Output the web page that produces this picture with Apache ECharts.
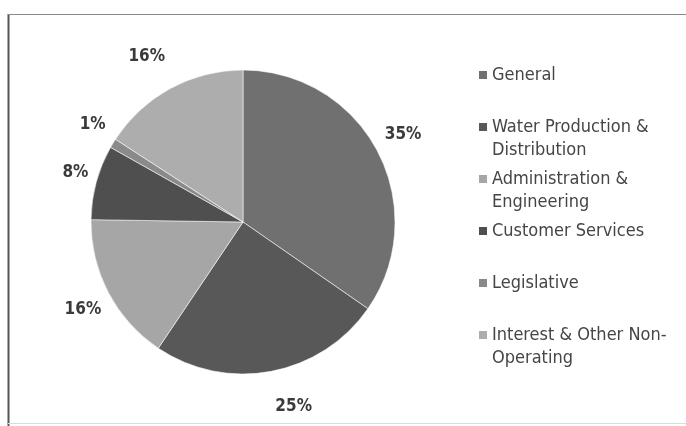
<!DOCTYPE html>
<html><head><meta charset="utf-8">
<script src="https://cdn.jsdelivr.net/npm/echarts@6/dist/echarts.min.js"></script>
<style>html,body{margin:0;padding:0;background:#fff}#c{width:686px;height:426px}</style>
</head><body><div id="c"></div>
<script>
const categories = ['General', 'Water Production & Distribution', 'Administration & Engineering', 'Customer Services', 'Legislative', 'Interest & Other Non-Operating'];
const legendLines = [['General'], ['Water Production &', 'Distribution'], ['Administration &', 'Engineering'], ['Customer Services'], ['Legislative'], ['Interest & Other Non-', 'Operating']];
const values = [35, 25, 16, 8, 1, 16];
const colors = ['#707070', '#585858', '#a6a6a6', '#4f4f4f', '#8a8a8a', '#adadad'];

const FONT = "'Liberation Sans Narrow', 'DejaVu Sans Condensed', sans-serif";
const CENTER = [243, 222];
const chart = echarts.init(document.getElementById('c'), null, {renderer: 'canvas'});

const rich = { t: { fontFamily: FONT, fontSize: 18, lineHeight: 23, color: '#454545' }, sp: { width: 13, height: 8 } };
colors.forEach((c, i) => { rich['sq' + i] = { width: 8, height: 8, backgroundColor: c, padding: 0 }; });
rich.gap = { width: 5, height: 8 };

chart.setOption({
  animation: false,
  backgroundColor: '#fff',
  color: colors,
  legend: {
    orient: 'vertical',
    left: 469,
    top: 58.5,
    itemWidth: 0,
    itemHeight: 0,
    itemGap: 6,
    icon: 'none',
    selectedMode: false,
    data: categories,
    formatter: name => {
      const i = categories.indexOf(name);
      const ls = legendLines[i];
      let s = '{sq' + i + '|}{gap|}{t|' + ls[0] + '}';
      s += '\n' + (ls[1] ? '{sp|}{t|' + ls[1] + '}' : '{t| }');
      return s;
    },
    textStyle: { fontFamily: FONT, fontSize: 18, lineHeight: 23, color: '#454545', rich: rich }
  },
  series: [{
    type: 'pie',
    center: CENTER,
    radius: 152,
    startAngle: 90,
    clockwise: true,
    avoidLabelOverlap: false,
    itemStyle: { borderColor: 'rgba(255,255,255,0.55)', borderWidth: 1 },
    label: {
      show: true,
      position: 'outside',
      formatter: p => p.value + '%',
      fontFamily: FONT,
      fontSize: 17,
      fontWeight: 'bold',
      color: '#3a3a3a'
    },
    labelLine: { show: false, length: 16, length2: 0 },
    labelLayout: p => {
      const r = p.labelRect;
      const lx = r.x + r.width / 2, ly = r.y + r.height / 2;
      return { dx: (lx - CENTER[0]) * -0.07, dy: (ly - CENTER[1]) * 0.12 };
    },
    emphasis: { disabled: true },
    data: categories.map((n, i) => ({ name: n, value: values[i] }))
  }],
  graphic: [
    { type: 'line', shape: { x1: 8.5, y1: 14, x2: 8.5, y2: 426 }, style: { stroke: '#555', lineWidth: 2 } },
    { type: 'line', shape: { x1: 8, y1: 14.5, x2: 686, y2: 14.5 }, style: { stroke: '#8a8a8a', lineWidth: 1 } },
    { type: 'line', shape: { x1: 8, y1: 423.5, x2: 686, y2: 423.5 }, style: { stroke: '#dcdcdc', lineWidth: 1 } }
  ]
});
</script></body></html>
